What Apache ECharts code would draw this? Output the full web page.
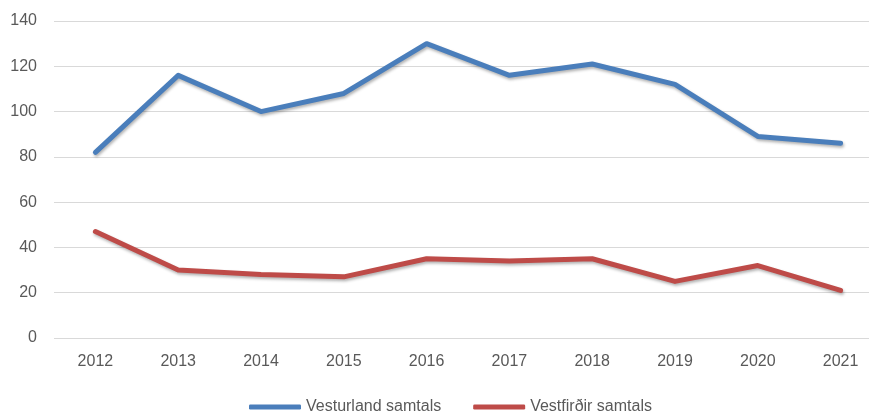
<!DOCTYPE html>
<html>
<head>
<meta charset="utf-8">
<script src="https://cdn.jsdelivr.net/npm/echarts@6/dist/echarts.min.js"></script>
<style>
  html, body { margin: 0; padding: 0; background: #fff; }
  #main { width: 869px; height: 416px; }
</style>
</head>
<body>
<div id="main"></div>
<script>
// ár og gildi lesin af myndinni
var years = ['2012', '2013', '2014', '2015', '2016', '2017', '2018', '2019', '2020', '2021'];
var vesturland = [82, 116, 100, 108, 130, 116, 121, 112, 89, 86];
var vestfirdir = [47, 30, 28, 27, 35, 34, 35, 25, 32, 21];
var yTicks = [0, 20, 40, 60, 80, 100, 120, 140];

var chart = echarts.init(document.getElementById('main'));

function lineSeries(name, data, color) {
  return {
    name: name,
    type: 'line',
    data: data,
    symbol: 'none',
    lineStyle: {
      width: 5,
      color: color,
      cap: 'round',
      join: 'round',
      shadowColor: 'rgba(0,0,0,0.3)',
      shadowBlur: 3,
      shadowOffsetX: 1,
      shadowOffsetY: 2
    },
    itemStyle: { color: color }
  };
}

chart.setOption({
  animation: false,
  textStyle: { fontFamily: 'Liberation Sans, Arial, sans-serif' },
  grid: { left: 54, top: 21, width: 828, height: 317, outerBoundsMode: 'none' },
  legend: {
    top: 394,
    left: 244,
    itemWidth: 52,
    itemHeight: 5,
    itemGap: 32,
    icon: 'roundRect',
    textStyle: { color: '#595959', fontSize: 16 },
    data: ['Vesturland samtals', 'Vestfirðir samtals']
  },
  xAxis: {
    type: 'category',
    data: years,
    boundaryGap: true,
    axisLine: { show: false },
    axisTick: { show: false },
    axisLabel: { color: '#595959', fontSize: 16, margin: 16 }
  },
  yAxis: {
    type: 'value',
    min: yTicks[0],
    max: yTicks[yTicks.length - 1],
    interval: 20,
    axisLine: { show: false },
    axisTick: { show: false },
    axisLabel: { color: '#595959', fontSize: 16, margin: 17 },
    splitLine: { lineStyle: { color: '#d9d9d9', width: 1 } }
  },
  series: [
    lineSeries('Vesturland samtals', vesturland, '#4a7ebb'),
    lineSeries('Vestfirðir samtals', vestfirdir, '#be4b48')
  ]
});
</script>
</body>
</html>
